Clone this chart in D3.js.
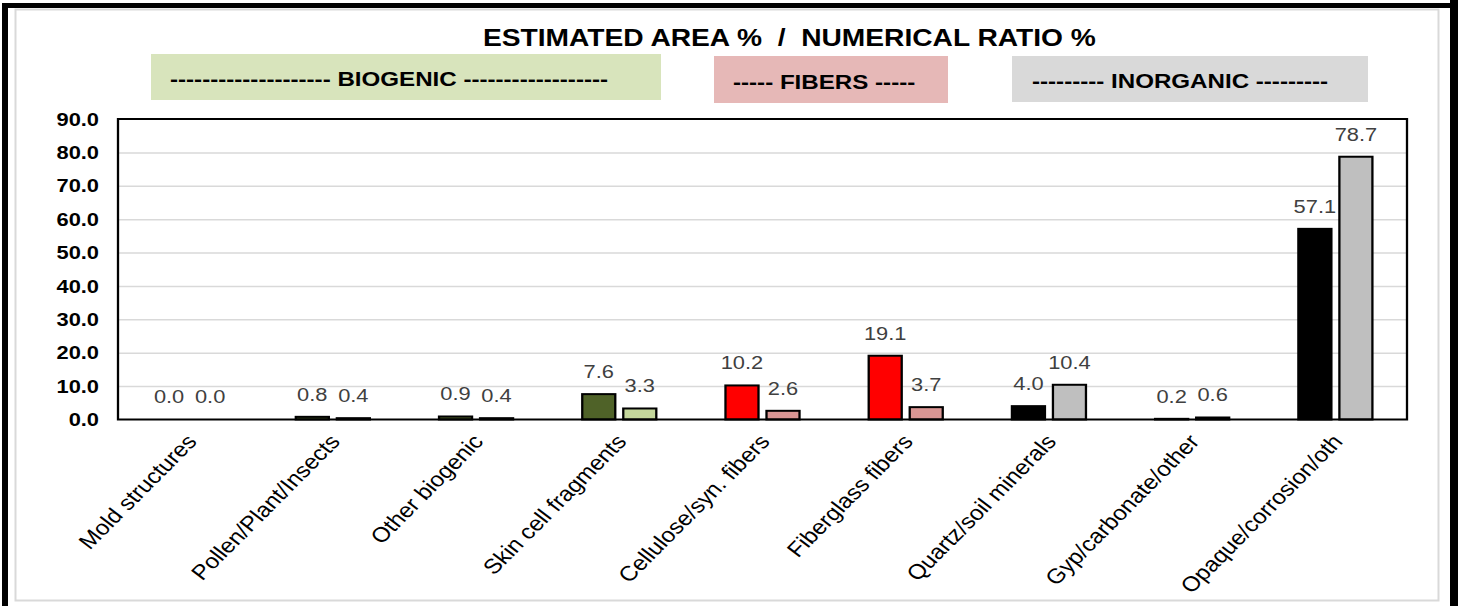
<!DOCTYPE html>
<html>
<head>
<meta charset="utf-8">
<script src="https://cdn.jsdelivr.net/npm/d3@7"></script>
<style>
  html, body { margin: 0; padding: 0; background: #ffffff; }
  svg { display: block; font-family: "Liberation Sans", Arial, sans-serif; }
  text { white-space: pre; }
</style>
</head>
<body>
<svg id="chart" width="1458" height="606"></svg>
<script>
// Particle categories along the x axis
const categories = [
  "Mold structures",
  "Pollen/Plant/Insects",
  "Other biogenic",
  "Skin cell fragments",
  "Cellulose/syn. fibers",
  "Fiberglass fibers",
  "Quartz/soil minerals",
  "Gyp/carbonate/other",
  "Opaque/corrosion/oth"
];
// Class each category belongs to
const categoryGroups = [
  "biogenic", "biogenic", "biogenic", "biogenic",
  "fibers", "fibers",
  "inorganic", "inorganic", "inorganic"
];
// Estimated area %
const areaPct = [0.0, 0.8, 0.9, 7.6, 10.2, 19.1, 4.0, 0.2, 57.1];
// Numerical ratio %
const numericalPct = [0.0, 0.4, 0.4, 3.3, 2.6, 3.7, 10.4, 0.6, 78.7];
// Value axis ticks
const yTicks = [0, 10, 20, 30, 40, 50, 60, 70, 80, 90];
// Group banner captions
const bannerLabels = [
  "-------------------- BIOGENIC ------------------",
  "----- FIBERS -----",
  "--------- INORGANIC ---------"
];
const titleText = "ESTIMATED AREA %  /  NUMERICAL RATIO %";

// Fill colours per class: [area series, numerical series]
const groupColors = {
  biogenic:  ["#4f6228", "#c4d79b"],
  fibers:    ["#ff0000", "#da9694"],
  inorganic: ["#000000", "#bfbfbf"]
};
const bannerFills = ["#d8e4bc", "#e6b8b7", "#d9d9d9"];
const bannerBoxes = [
  { x0: 151, x1: 661, y0: 54, y1: 100, tx: 170 },
  { x0: 714, x1: 948, y0: 56, y1: 103, tx: 733 },
  { x0: 1012, x1: 1368, y0: 56, y1: 102, tx: 1032 }
];

const svg = d3.select("#chart");
const W = 1458, H = 606;

// Outer frame: thick black edges and thin grey chart border
svg.append("rect").attr("x", 0).attr("y", 0).attr("width", W).attr("height", H).attr("fill", "#ffffff");
svg.append("rect").attr("x", 2).attr("y", 3).attr("width", W - 2).attr("height", 5).attr("fill", "#000");
svg.append("rect").attr("x", 2).attr("y", 3).attr("width", 6).attr("height", H - 3).attr("fill", "#000");
svg.append("rect").attr("x", 1450).attr("y", 0).attr("width", 8).attr("height", H).attr("fill", "#000");
svg.append("rect").attr("x", 15.5).attr("y", 9.5).attr("width", 1423).attr("height", 591)
  .attr("fill", "#fff").attr("stroke", "#d9d9d9").attr("stroke-width", 2);

// The chart body is drawn with a slight horizontal stretch
const sx = 1.15;
const X = v => v / sx;
const g = svg.append("g").attr("transform", `scale(${sx},1)`);

const plot = { left: 118, right: 1407, top: 119, bottom: 419.5 };

const y = d3.scaleLinear().domain([0, 90]).range([plot.bottom, plot.top]);
const x0 = d3.scaleBand().domain(categories).range([X(plot.left), X(plot.right)]);
const bw = x0.bandwidth();
const x1 = d3.scaleBand().domain(["area", "num"])
  .range([bw * 0.2415, bw * 0.7585]).paddingInner(0.195);

// Title
g.append("text")
  .attr("x", X(483)).attr("y", 46)
  .attr("font-size", 24.5).attr("font-weight", "bold").attr("fill", "#000")
  .text(titleText);

// Group banners
const banners = g.selectAll("g.banner").data(bannerBoxes).join("g").attr("class", "banner");
banners.append("rect")
  .attr("x", d => X(d.x0)).attr("y", d => d.y0)
  .attr("width", d => X(d.x1 - d.x0)).attr("height", d => d.y1 - d.y0)
  .attr("fill", (d, i) => bannerFills[i]);
banners.append("text")
  .attr("x", d => X(d.tx)).attr("y", d => d.y1 - 14)
  .attr("font-size", 21).attr("font-weight", "bold").attr("fill", "#000")
  .text((d, i) => bannerLabels[i]);

// Horizontal gridlines
g.append("g")
  .attr("transform", `translate(${X(plot.left)},0)`)
  .call(d3.axisLeft(y).tickValues(yTicks.slice(1, -1)).tickSize(-(X(plot.right) - X(plot.left))).tickFormat(""))
  .call(a => a.select(".domain").remove())
  .call(a => a.selectAll("line").attr("stroke", "#d9d9d9").attr("stroke-width", 1.5));

// Bars
const rows = categories.map((c, i) => ({
  cat: c, group: categoryGroups[i],
  series: [
    { key: "area", value: areaPct[i] },
    { key: "num", value: numericalPct[i] }
  ]
}));
const catG = g.selectAll("g.cat").data(rows).join("g").attr("class", "cat")
  .attr("transform", d => `translate(${x0(d.cat)},0)`);

catG.selectAll("rect")
  .data(d => d.series.filter(s => s.value > 0).map(s => ({ ...s, group: d.group })))
  .join("rect")
  .attr("x", d => x1(d.key))
  .attr("y", d => y(d.value))
  .attr("width", x1.bandwidth())
  .attr("height", d => y(0) - y(d.value))
  .attr("fill", d => groupColors[d.group][d.key === "area" ? 0 : 1])
  .attr("stroke", "#000").attr("stroke-width", 2);

// Value labels
catG.selectAll("text.val")
  .data(d => d.series)
  .join("text").attr("class", "val")
  .attr("x", d => x1(d.key) + x1.bandwidth() / 2)
  .attr("y", d => y(d.value) - 16)
  .attr("text-anchor", "middle")
  .attr("font-size", 19).attr("fill", "#404040")
  .text(d => d3.format(".1f")(d.value));

// Plot border
g.append("rect")
  .attr("x", X(plot.left)).attr("y", plot.top)
  .attr("width", X(plot.right) - X(plot.left)).attr("height", plot.bottom - plot.top)
  .attr("fill", "none").attr("stroke", "#000").attr("stroke-width", 2);

// Y axis labels
g.append("g")
  .attr("transform", `translate(${X(plot.left)},0)`)
  .call(d3.axisLeft(y).tickValues(yTicks).tickFormat(d3.format(".1f")).tickSize(0).tickPadding(X(19)))
  .call(a => a.select(".domain").remove())
  .call(a => a.selectAll("text")
    .attr("font-family", "'Liberation Sans', Arial, sans-serif")
    .attr("font-size", 19).attr("font-weight", "bold").attr("fill", "#000"));

// X axis category labels, rotated
g.append("g")
  .attr("transform", `translate(0,${plot.bottom})`)
  .call(d3.axisBottom(x0).tickSize(0))
  .call(a => a.select(".domain").remove())
  .call(a => a.selectAll("text")
    .attr("font-family", "'Liberation Sans', Arial, sans-serif")
    .attr("font-size", 21).attr("fill", "#000")
    .attr("text-anchor", "end")
    .attr("y", 0).attr("dy", "0.35em")
    .attr("transform", `translate(${X(2)},18) rotate(-49)`));
</script>
</body>
</html>
